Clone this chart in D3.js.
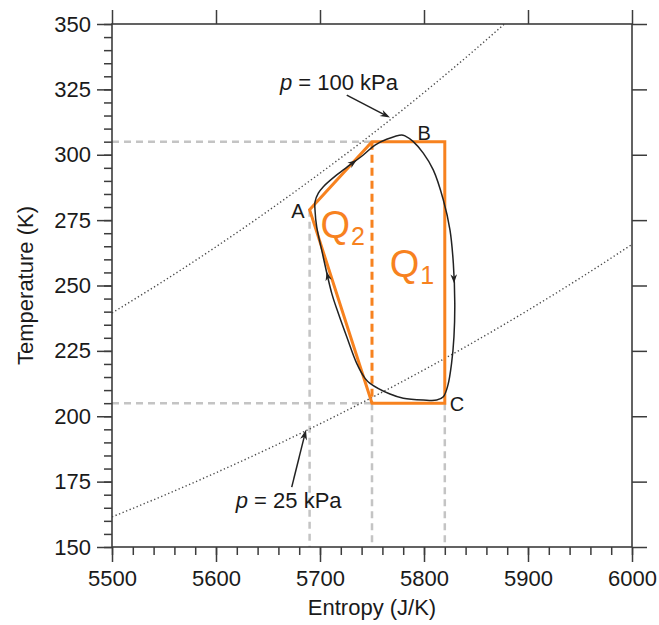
<!DOCTYPE html>
<html><head><meta charset="utf-8">
<script src="https://cdn.jsdelivr.net/npm/d3@7"></script>
<style>body{margin:0;background:#fff}svg{display:block}text{font-family:"Liberation Sans",Arial,Helvetica,sans-serif}</style>
</head><body><svg id="c" width="659" height="625"></svg>
<script>
// ---- data ----
const entropyTicks = [5500, 5600, 5700, 5800, 5900, 6000];
const entropyMinor = d3.range(5500, 6001, 20);
const tempTicks = [150, 175, 200, 225, 250, 275, 300, 325, 350];
const tempMinor = d3.range(150, 351, 5);

// measured cycle (clockwise)
const cycleS = [5695.2,5695.2,5698.4,5703.2,5716.1,5728.8,5741.6,5752.9,5764.1,5778.6,5781.7,5789.7,5799.3,5808.9,5818.6,5825.0,5828.2,5829.6,5828.8,5826.5,5823.0,5818.6,5812.2,5799.3,5780.1,5767.3,5748.1,5743.3,5735.3,5725.7,5717.6,5711.3,5701.6,5696.8];
const cycleT = [278.9,282.0,285.3,287.8,292.3,296.1,299.9,303.7,305.9,307.6,307.2,305.0,300.6,294.2,282.7,271.2,258.5,243.2,230.4,220.2,211.9,207.5,206.2,206.2,206.9,208.5,212.6,214.5,220.2,230.4,239.4,247.0,263.6,272.5];
const cycleArrowIdx = [5, 16, 31];

// idealised cycle
const idealS = [5690, 5750, 5820, 5820, 5750];
const idealT = [279, 305, 305, 205, 205];
const splitS = 5750;

// isobars
const isobarS = [5500,5550,5600,5650,5700,5750,5800,5850,5900,5950,6000];
const isobar100T = [239.5,251.8,264.8,278.5,292.9,307.9,323.8,340.5,358.1,376.5,395.9];
const isobar25T = [161.5,169.75,178.41,187.52,197.10,207.16,217.74,228.85,240.53,252.81,265.72];

// ---- drawing ----
const svg = d3.select("#c");
const x = d3.scaleLinear([5500, 6000], [112, 632]);
const y = d3.scaleLinear([150, 350], [547, 24]);
const axisColor = "#3c3c3c", textColor = "#1a1a1a", orange = "#f7821f", gray = "#c4c4c4";
const fs = 22;

svg.append("clipPath").attr("id","clip").append("rect")
  .attr("x", x(5500)).attr("y", y(350)).attr("width", x(6000)-x(5500)).attr("height", y(150)-y(350));
const plot = svg.append("g").attr("clip-path","url(#clip)");

// gray guide lines
const guides = plot.append("g").attr("stroke", gray).attr("stroke-width", 2.5).attr("stroke-dasharray","7,5").attr("fill","none");
[idealT[1], idealT[3]].forEach(t => guides.append("line").attr("x1", x(5500)).attr("x2", x(splitS)).attr("y1", y(t)).attr("y2", y(t)));
guides.append("line").attr("x1", x(idealS[0])).attr("x2", x(idealS[0])).attr("y1", y(idealT[0])).attr("y2", y(150));
guides.append("line").attr("x1", x(splitS)).attr("x2", x(splitS)).attr("y1", y(idealT[3])).attr("y2", y(150));
guides.append("line").attr("x1", x(idealS[2])).attr("x2", x(idealS[2])).attr("y1", y(idealT[3])).attr("y2", y(150));

// isobars
const iso = d3.line().curve(d3.curveMonotoneX).x(d => x(d[0])).y(d => y(d[1]));
[isobar100T, isobar25T].forEach(ts => {
  plot.append("path").attr("d", iso(isobarS.map((s,i)=>[s, ts[i]])))
    .attr("fill","none").attr("stroke","#4a4a4a").attr("stroke-width",1.4).attr("stroke-dasharray","1.3,2.5");
});

// ideal cycle
const idealPts = idealS.map((s,i)=>[x(s), y(idealT[i])]);
plot.append("path").attr("d", d3.line()(idealPts) + "Z")
  .attr("fill","none").attr("stroke", orange).attr("stroke-width", 3).attr("stroke-linejoin","miter");
plot.append("line").attr("x1", x(splitS)).attr("x2", x(splitS)).attr("y1", y(idealT[1])).attr("y2", y(idealT[3]))
  .attr("stroke", orange).attr("stroke-width", 3).attr("stroke-dasharray","8,5");

// measured cycle
const cyc = cycleS.map((s,i)=>[x(s), y(cycleT[i])]);
plot.append("path").attr("d", d3.line().curve(d3.curveCatmullRomClosed.alpha(0.5))(cyc))
  .attr("fill","none").attr("stroke","#222").attr("stroke-width",1.5);

function arrowHead(g, tip, from, len=9, hw=3.3) {
  const a = Math.atan2(tip[1]-from[1], tip[0]-from[0]) * 180 / Math.PI;
  g.append("path").attr("d", `M0,0 L${-len},${-hw} L${-len*0.7},0 L${-len},${hw} Z`)
    .attr("transform", `translate(${tip[0]},${tip[1]}) rotate(${a})`).attr("fill","#222");
}
cycleArrowIdx.forEach(i => {
  const p0 = cyc[i], p1 = cyc[(i+1)%cyc.length];
  const tip = [(p0[0]+p1[0])/2, (p0[1]+p1[1])/2];
  arrowHead(plot, tip, p0);
});

// Q labels
function qLabel(sub, s, t) {
  const tx = svg.append("text").attr("x", x(s)).attr("y", y(t)).attr("fill", orange).attr("font-size", 38);
  tx.append("tspan").text("Q");
  tx.append("tspan").attr("font-size", 25).attr("dy", 7).attr("dx", 1).text(sub);
}
qLabel("2", 5700.5, 268.2);
qLabel("1", 5767, 253.3);

// point labels
svg.append("text").attr("x", x(5690)-5).attr("y", y(279)+8).attr("text-anchor","end").attr("font-size",20).attr("fill",textColor).text("A");
svg.append("text").attr("x", x(5789)+5).attr("y", y(305)-2).attr("font-size",20).attr("fill",textColor).text("B");
svg.append("text").attr("x", x(5820)+5).attr("y", y(205)+8).attr("font-size",20).attr("fill",textColor).text("C");

// isobar annotations
function pLabel(val, s, t) {
  const tx = svg.append("text").attr("x", x(s)).attr("y", y(t)).attr("font-size", fs).attr("fill", textColor);
  tx.append("tspan").attr("font-style","italic").text("p");
  tx.append("tspan").text(" = " + val + " kPa");
}
pLabel(100, 5661.5, 324.6);
pLabel(25, 5619, 164.8);
function annArrow(s0,t0,s1,t1){
  const a=[x(s0),y(t0)], b=[x(s1),y(t1)];
  svg.append("line").attr("x1",a[0]).attr("y1",a[1]).attr("x2",b[0]-(b[0]-a[0])*0.1).attr("y2",b[1]-(b[1]-a[1])*0.1).attr("stroke","#222").attr("stroke-width",1.5);
  arrowHead(svg, b, a, 10, 3.5);
}
annArrow(5725.7, 322.8, 5767.3, 314.2);
annArrow(5672.8, 172.9, 5686.5, 194.8);

// axes
const fmt = d3.format("d");
function styleAxis(g){ g.select(".domain").remove(); g.selectAll("line").attr("stroke",axisColor).attr("stroke-width",1.5); g.selectAll("text").attr("font-size",fs).attr("fill",textColor).attr("font-family",'"Liberation Sans",Arial,sans-serif'); }
const gl = svg.append("g").attr("transform",`translate(${x(5500)},0)`);
gl.append("g").call(d3.axisLeft(y).tickValues(tempMinor).tickSize(8).tickFormat("")).call(styleAxis);
gl.append("g").call(d3.axisLeft(y).tickValues(tempTicks).tickSize(15).tickPadding(6).tickFormat(fmt)).call(styleAxis);
const gb = svg.append("g").attr("transform",`translate(0,${y(150)})`);
gb.append("g").call(d3.axisBottom(x).tickValues(entropyMinor).tickSize(8).tickFormat("")).call(styleAxis);
gb.append("g").call(d3.axisBottom(x).tickValues(entropyTicks).tickSize(15).tickPadding(8).tickFormat(fmt)).call(styleAxis);
svg.append("g").attr("transform",`translate(0,${y(350)})`).call(d3.axisTop(x).tickValues(entropyTicks).tickSize(14).tickFormat("")).call(styleAxis);
svg.append("g").attr("transform",`translate(${x(6000)},0)`).call(d3.axisRight(y).tickValues(tempTicks).tickSize(15).tickFormat("")).call(styleAxis);
svg.append("rect").attr("x",x(5500)).attr("y",y(350)).attr("width",x(6000)-x(5500)).attr("height",y(150)-y(350))
  .attr("fill","none").attr("stroke",axisColor).attr("stroke-width",1.6);

svg.append("text").attr("x",(x(5500)+x(6000))/2).attr("y",615).attr("text-anchor","middle").attr("font-size",fs).attr("fill",textColor).text("Entropy (J/K)");
svg.append("text").attr("transform",`translate(33,${(y(150)+y(350))/2}) rotate(-90)`).attr("text-anchor","middle").attr("font-size",fs).attr("fill",textColor).text("Temperature (K)");
</script></body></html>
